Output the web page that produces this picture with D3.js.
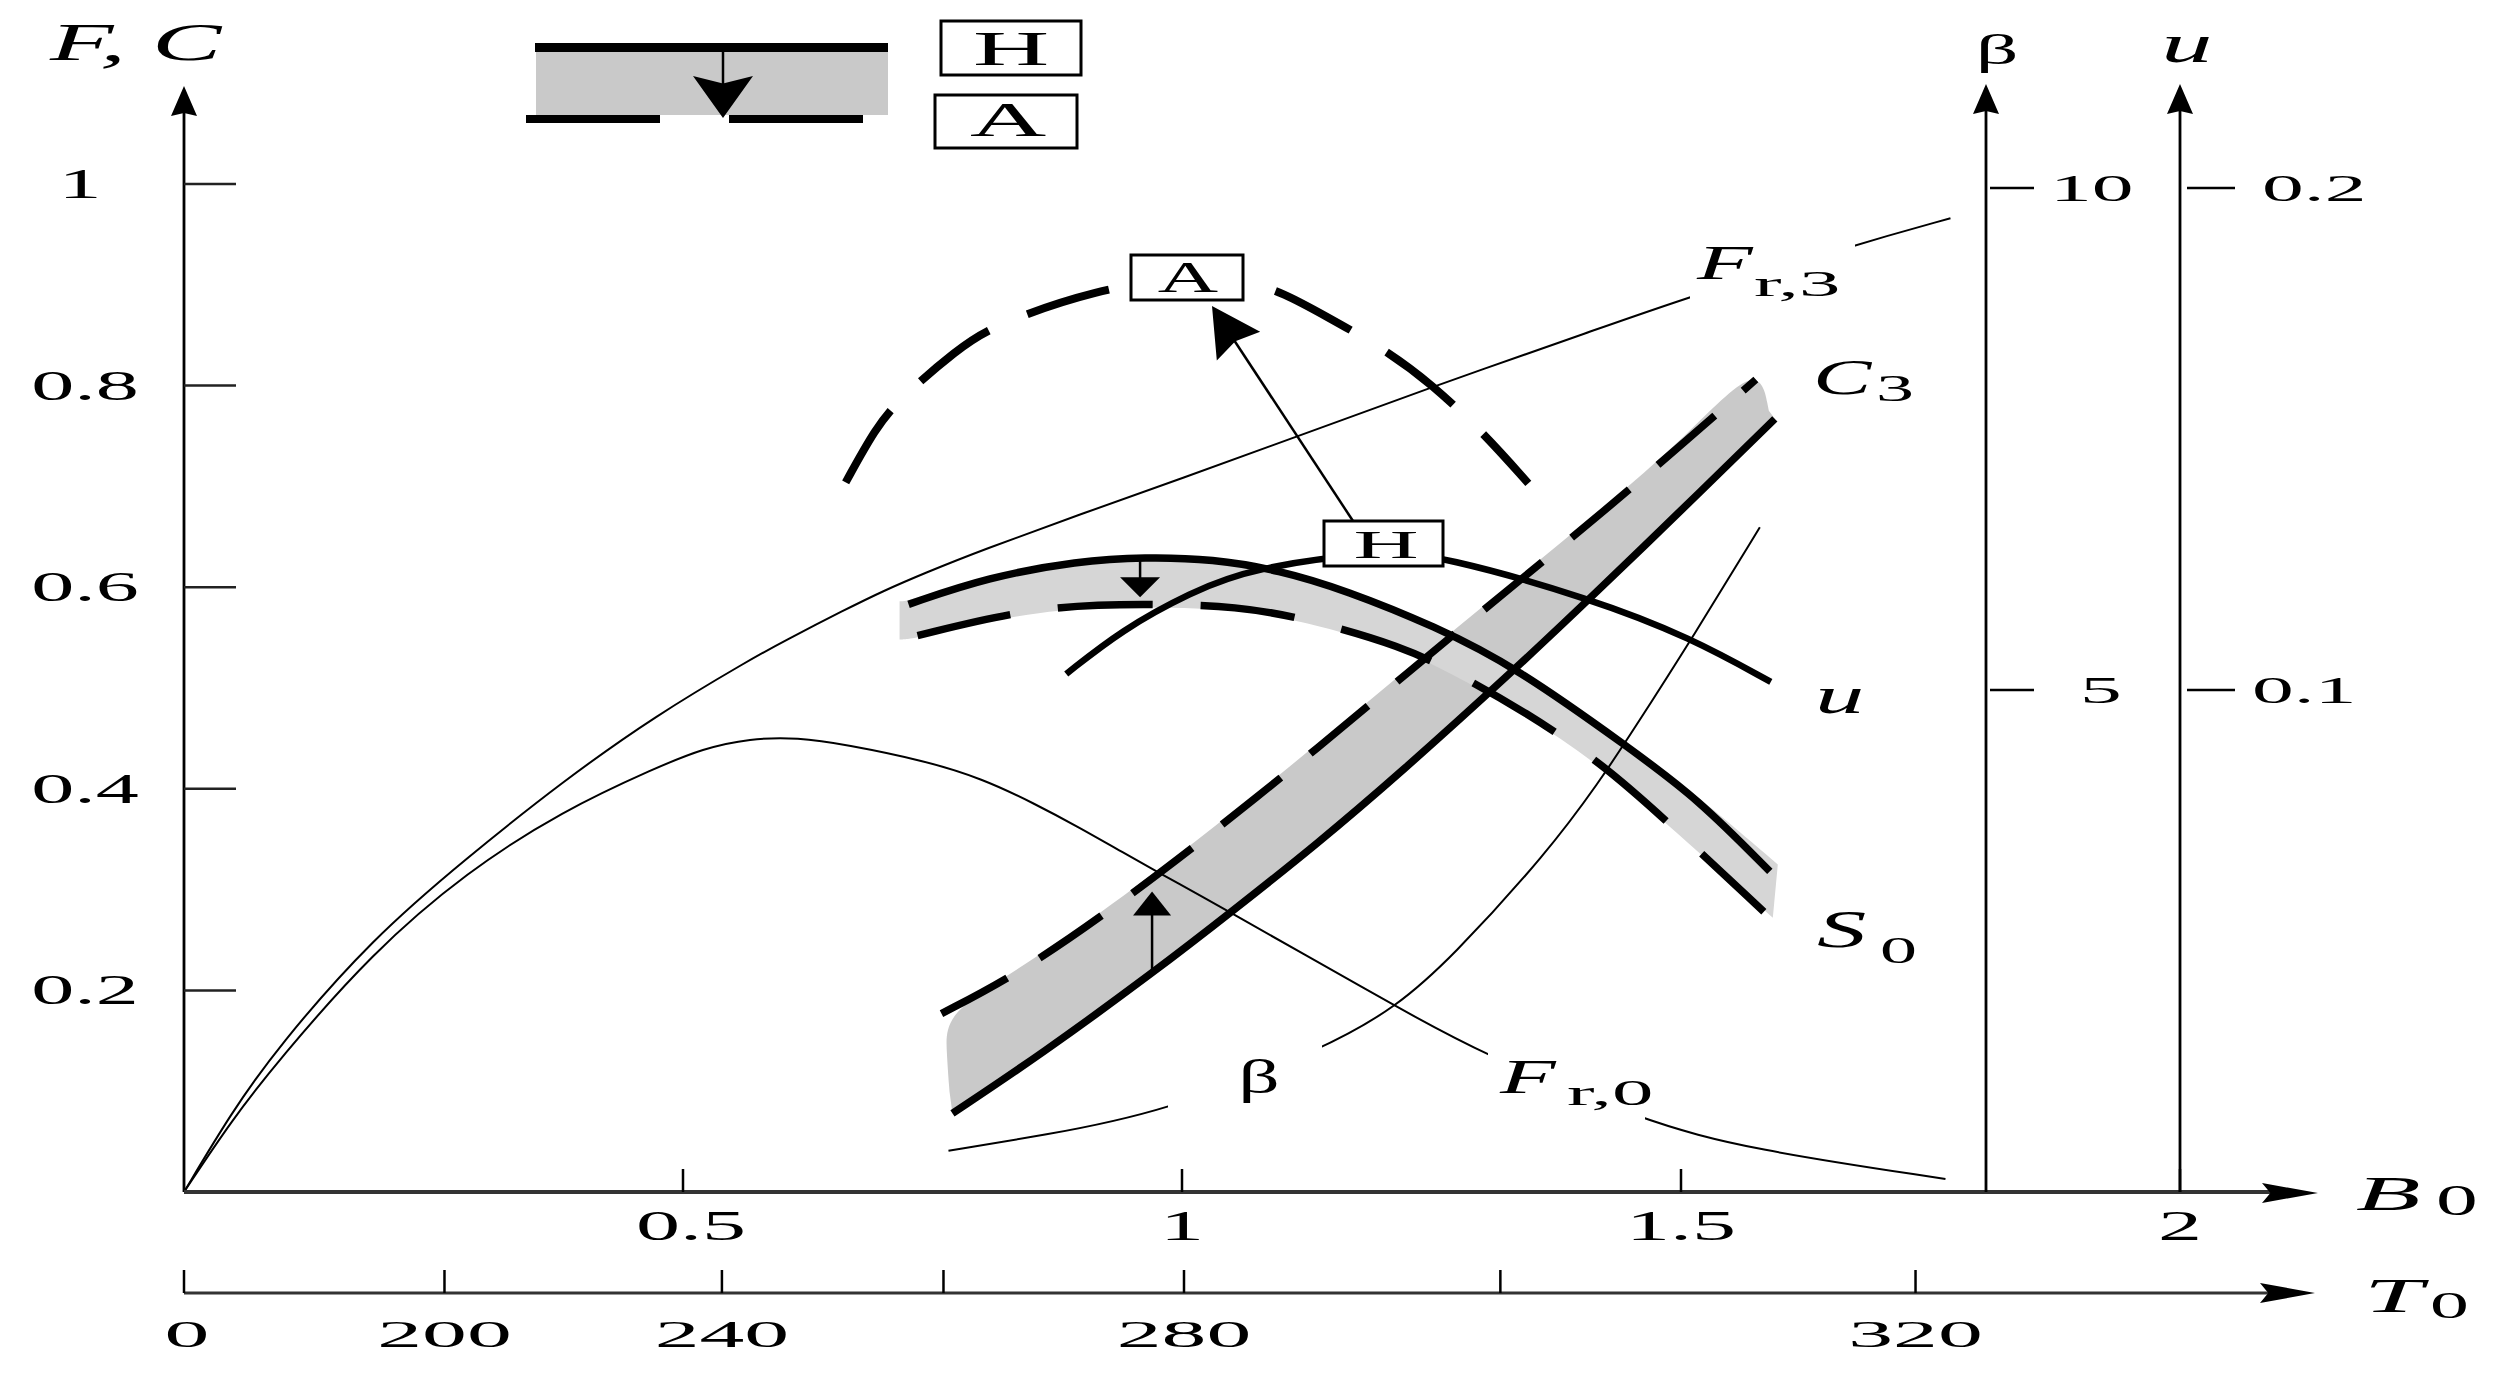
<!DOCTYPE html>
<html><head><meta charset="utf-8">
<script src="https://cdn.jsdelivr.net/npm/d3@7"></script>
<style>body{margin:0;background:#fff}svg{display:block}</style>
</head><body>
<script>
// ---------------- data (B0 on x; F / C / S on left axis; beta, u on right axes) ----------------
const yTicks = [0.2, 0.4, 0.6, 0.8, 1];
const yTickLabels = ["0.2", "0.4", "0.6", "0.8", "1"];
const b0Ticks = [0.5, 1, 1.5, 2];
const b0TickLabels = ["0.5", "1", "1.5", "2"];
const t0Values = [0, 200, 240, 260, 280, 300, 320];
const t0AtB0   = [0, 0.261, 0.539, 0.761, 1.002, 1.319, 1.735];
const t0Labels = ["0", "200", "240", "", "280", "", "320"];
const betaTicks = [5, 10];
const betaTickLabels = ["5", "10"];
const uTicks = [0.1, 0.2];
const uTickLabels = ["0.1", "0.2"];

const fr3 = [[0,0],[0.047,0.078],[0.094,0.144],[0.189,0.252],[0.284,0.332],[0.379,0.407],[0.473,0.473],
  [0.567,0.528],[0.600,0.546],[0.663,0.578],[0.700,0.596],[0.742,0.614],[0.800,0.637],[0.900,0.673],
  [1.000,0.708],[1.111,0.748],[1.240,0.795],[1.419,0.857],[1.502,0.886],[1.675,0.940],[1.770,0.966]];
const fr0 = [[0,0],[0.047,0.070],[0.094,0.130],[0.189,0.238],[0.284,0.318],[0.379,0.378],[0.473,0.421],
  [0.520,0.440],[0.567,0.450],[0.615,0.451],[0.663,0.444],[0.742,0.428],[0.800,0.410],[0.851,0.386],
  [0.900,0.360],[0.935,0.340],[1.000,0.304],[1.051,0.276],[1.120,0.237],[1.215,0.184],[1.296,0.139],
  [1.463,0.070],[1.570,0.042],[1.765,0.013]];
const betaCurve = [[0.766,0.41],[0.858,0.56],[0.979,0.78],[1.148,1.45],[1.215,1.85],[1.268,2.31],
  [1.367,3.39],[1.419,4.1],[1.449,4.55],[1.514,5.56],[1.579,6.62]];
const uCurve = [[0.884,0.1032],[0.940,0.112],[1.008,0.1194],[1.071,0.1244],[1.201,0.1277],[1.260,0.1267],
  [1.410,0.1182],[1.510,0.1104],[1.590,0.1016]];
const c3Solid = [[0.770,0.078],[0.858,0.136],[0.973,0.219],[1.051,0.279],[1.135,0.345],[1.218,0.415],
  [1.333,0.518],[1.410,0.590],[1.525,0.700],[1.594,0.767]];
const c3Dashed = [[0.759,0.177],[0.839,0.218],[0.943,0.290],[1.039,0.363],[1.138,0.442],[1.227,0.516],
  [1.325,0.596],[1.419,0.672],[1.506,0.746],[1.575,0.806]];
const c3BandTop = [[0.767,0.100],[0.764,0.140],[0.763,0.178],[0.839,0.222],[0.943,0.294],[1.039,0.367],
  [1.138,0.446],[1.227,0.520],[1.325,0.600],[1.419,0.676],[1.506,0.750],[1.578,0.826],[1.588,0.775]];
const s0Solid = [[0.726,0.583],[0.806,0.610],[0.896,0.626],[0.963,0.630],[1.031,0.628],[1.097,0.617],
  [1.164,0.597],[1.254,0.561],[1.334,0.521],[1.449,0.440],[1.517,0.390],[1.589,0.318]];
const s0Dashed = [[0.735,0.552],[0.838,0.577],[0.918,0.583],[0.985,0.583],[1.053,0.581],[1.120,0.570],
  [1.222,0.541],[1.276,0.514],[1.343,0.477],[1.420,0.426],[1.487,0.367],[1.583,0.278]];
const s0BandTop = [[0.717,0.586],[0.726,0.586],[0.806,0.613],[0.896,0.629],[0.963,0.633],[1.031,0.631],
  [1.097,0.620],[1.164,0.600],[1.254,0.564],[1.334,0.524],[1.449,0.443],[1.517,0.393],[1.597,0.325]];
const s0BandBottom = [[0.717,0.548],[0.735,0.549],[0.838,0.574],[0.918,0.580],[0.985,0.580],[1.053,0.578],
  [1.120,0.567],[1.222,0.538],[1.276,0.511],[1.343,0.474],[1.420,0.423],[1.487,0.364],[1.592,0.272]];
const arcA = [[0.663,0.704],[0.693,0.758],[0.717,0.787],[0.775,0.836],[0.811,0.860],[0.916,0.896],
  [1.003,0.908],[1.062,0.905],[1.102,0.892],[1.144,0.869],[1.200,0.838],[1.250,0.802],[1.303,0.752],[1.347,0.703]];

// ---------------- scales ----------------
const W = 2501, H = 1375;
const x = d3.scaleLinear().domain([0, 2]).range([184, 2180]);
const yF = d3.scaleLinear().domain([0, 1]).range([1192, 184]);
const yB = d3.scaleLinear().domain([0, 10]).range([1192, 188]);
const yU = d3.scaleLinear().domain([0, 0.2]).range([1192, 188]);
const t0 = d3.scaleLinear().domain(t0Values).range(t0AtB0.map(v => x(v)));

const svg = d3.select("body").append("svg").attr("width", W).attr("height", H);
const FONT = "'Liberation Serif','Times New Roman',serif";

function txt(str, px, py, o) {
  return svg.append("text")
    .attr("transform", `translate(${px},${py}) scale(${o.sx || 1},1)`)
    .attr("font-family", FONT).attr("font-size", o.size)
    .attr("font-style", o.italic ? "italic" : "normal")
    .attr("text-anchor", o.anchor || "start").attr("fill", "#000").text(str);
}
function head(tx, ty, dx, dy, len, hw, notch) {
  const L = Math.hypot(dx, dy), ux = dx / L, uy = dy / L, px = -uy, py = ux;
  const bx = tx - ux * len, by = ty - uy * len;
  const nx = tx - ux * len * (1 - (notch || 0)), ny = ty - uy * len * (1 - (notch || 0));
  svg.append("path").attr("d",
    `M${tx},${ty}L${bx + px * hw},${by + py * hw}L${nx},${ny}L${bx - px * hw},${by - py * hw}Z`)
    .attr("fill", "#000");
}
function seg(x1, y1, x2, y2, w, c) {
  svg.append("line").attr("x1", x1).attr("y1", y1).attr("x2", x2).attr("y2", y2)
    .attr("stroke", c || "#000").attr("stroke-width", w);
}

const CURVE = d3.curveBasis;
const lineF = d3.line().x(d => x(d[0])).y(d => yF(d[1])).curve(CURVE);
const lineB = d3.line().x(d => x(d[0])).y(d => yB(d[1])).curve(CURVE);
const lineU = d3.line().x(d => x(d[0])).y(d => yU(d[1])).curve(CURVE);
function band(top, bottom) {
  const a = lineF(top), b = lineF(bottom.slice().reverse());
  return a + "L" + b.slice(1) + "Z";
}

// ---------------- grey bands ----------------
svg.append("path").attr("d", band(c3BandTop, c3Solid)).attr("fill", "#c9c9c9");
svg.append("path").attr("d", band(s0BandTop, s0BandBottom)).attr("fill", "#d6d6d6");

// ---------------- thin curves ----------------
const thin = 2;
svg.append("path").attr("d", lineF(fr3)).attr("fill", "none").attr("stroke", "#000").attr("stroke-width", thin);
svg.append("path").attr("d", lineF(fr0)).attr("fill", "none").attr("stroke", "#000").attr("stroke-width", thin);
svg.append("path").attr("d", lineB(betaCurve)).attr("fill", "none").attr("stroke", "#000").attr("stroke-width", thin);

// ---------------- thick curves ----------------
const thick = 7.5;
svg.append("path").attr("d", lineF(s0Solid)).attr("fill", "none").attr("stroke", "#000").attr("stroke-width", thick);
svg.append("path").attr("d", lineF(s0Dashed)).attr("fill", "none").attr("stroke", "#000").attr("stroke-width", thick)
  .attr("stroke-dasharray", "95,48");
svg.append("path").attr("d", lineF(c3Solid)).attr("fill", "none").attr("stroke", "#000").attr("stroke-width", thick);
svg.append("path").attr("d", lineF(c3Dashed)).attr("fill", "none").attr("stroke", "#000").attr("stroke-width", thick)
  .attr("stroke-dasharray", "75,38");
svg.append("path").attr("d", lineU(uCurve)).attr("fill", "none").attr("stroke", "#000").attr("stroke-width", 6.5);
svg.append("path").attr("d", lineF(arcA)).attr("fill", "none").attr("stroke", "#000").attr("stroke-width", 8)
  .attr("stroke-dasharray", "85,42");

// small arrows inside bands
seg(x(0.970), yF(0.219), x(0.970), yF(0.280), 2.5);
head(x(0.970), yF(0.298), 0, -1, 24, 19, 0);
seg(x(0.958), yF(0.628), x(0.958), yF(0.600), 2.5);
head(x(0.958), yF(0.590), 0, 1, 20, 20, 0);

// ---------------- label backgrounds ----------------
function white(x1, y1, x2, y2) { svg.append("rect").attr("x", x1).attr("y", y1).attr("width", x2 - x1).attr("height", y2 - y1).attr("fill", "#fff"); }
white(1690, 238, 1855, 305);
white(1488, 1048, 1645, 1125);
white(1168, 1035, 1322, 1128);

// ---------------- boxes + arrow H -> A ----------------
function box(x1, y1, x2, y2) {
  svg.append("rect").attr("x", x1).attr("y", y1).attr("width", x2 - x1).attr("height", y2 - y1)
    .attr("fill", "#fff").attr("stroke", "#000").attr("stroke-width", 3);
}
seg(1353, 521, 1230, 334, 2.5);
head(1212, 306, -0.553, -0.835, 48, 26, 0.12);
box(1131, 255, 1243, 300); txt("A", 1188, 292, { size: 44, sx: 1.9, anchor: "middle" });
box(1324, 521, 1443, 566); txt("H", 1386, 558, { size: 41, sx: 2.2, anchor: "middle" });

// ---------------- legend ----------------
svg.append("rect").attr("x", 536).attr("y", 51).attr("width", 352).attr("height", 64).attr("fill", "#c9c9c9");
seg(535, 47.5, 888, 47.5, 9);
seg(526, 119, 660, 119, 8);
seg(729, 119, 863, 119, 8);
seg(723, 47, 723, 84, 2.5);
head(723, 118, 0, 1, 42, 30, 0.18);
box(941, 21, 1081, 75); txt("H", 1011, 65, { size: 48, sx: 2.2, anchor: "middle" });
box(935, 95, 1077, 148); txt("A", 1008, 136, { size: 48, sx: 2.2, anchor: "middle" });

// ---------------- axes ----------------
const ax = 2.8;
seg(x(0), yF(0), x(0), 108, ax);
head(x(0), 86, 0, -1, 30, 13, 0.1);
seg(x(0), yF(0), 2275, yF(0), 4, "#333");
head(2318, yF(0) + 1, 1, 0, 56, 10, 0.15);
seg(x(0), 1293, 2275, 1293, 3, "#333");
head(2315, 1293, 1, 0, 55, 10, 0.15);
seg(1986, yB(0), 1986, 106, ax);
head(1986, 84, 0, -1, 30, 13, 0.1);
seg(x(2), yU(0), x(2), 106, ax);
head(x(2), 84, 0, -1, 30, 13, 0.1);

yTicks.forEach((v, i) => {
  seg(x(0), yF(v), x(0) + 52, yF(v), 2.5, "#222");
  txt(yTickLabels[i], v === 1 ? 80 : 85, yF(v) + 14, { size: 42, sx: 2.05, anchor: "middle" });
});
b0Ticks.forEach((v, i) => {
  seg(x(v), yF(0), x(v), yF(0) - 23, 2.5);
  txt(b0TickLabels[i], x(v) + (v === 0.5 ? 8 : 0), 1240, { size: 42, sx: 2.1, anchor: "middle" });
});
t0Values.forEach((v, i) => {
  seg(t0(v), 1293, t0(v), 1270, 2.5);
  if (t0Labels[i]) txt(t0Labels[i], t0(v) + (v === 0 ? 3 : 0), 1347, { size: 39, sx: 2.3, anchor: "middle" });
});
betaTicks.forEach((v, i) => {
  seg(1990, yB(v), 2034, yB(v), 2.5);
  txt(betaTickLabels[i], v === 10 ? 2050 : 2080, yB(v) + 13, { size: 38, sx: 2.2 });
});
uTicks.forEach((v, i) => {
  seg(x(2) + 7, yU(v), x(2) + 55, yU(v), 2.5);
  txt(uTickLabels[i], v === 0.2 ? 2262 : 2252, yU(v) + 13, { size: 38, sx: 2.2 });
});

// ---------------- axis titles ----------------
txt("F, C", 50, 60, { size: 52, sx: 2.0, italic: true });
txt("β", 1997, 64, { size: 42, sx: 2.0, anchor: "middle" });
txt("u", 2187, 62, { size: 54, sx: 1.9, italic: true, anchor: "middle" });
txt("B", 2356, 1210, { size: 48, sx: 2.2, italic: true });
txt("0", 2436, 1215, { size: 44, sx: 1.9 });
txt("T", 2364, 1312, { size: 48, sx: 2.2, italic: true });
txt("0", 2430, 1318, { size: 37, sx: 2.1 });

// ---------------- curve labels ----------------
txt("F", 1697, 279, { size: 48, sx: 1.9, italic: true });
txt("r,3", 1754, 296, { size: 36, sx: 2.3 });
txt("C", 1813, 394, { size: 50, sx: 1.75, italic: true });
txt("3", 1876, 401, { size: 38, sx: 2.0 });
txt("u", 1815, 713, { size: 52, sx: 1.9, italic: true });
txt("S", 1817, 947, { size: 52, sx: 1.9, italic: true });
txt("0", 1880, 963, { size: 37, sx: 2.0 });
txt("F", 1500, 1093, { size: 48, sx: 1.9, italic: true });
txt("r,0", 1567, 1105, { size: 36, sx: 2.3 });
txt("β", 1259, 1093, { size: 48, sx: 1.7, anchor: "middle" });
</script>
</body></html>
